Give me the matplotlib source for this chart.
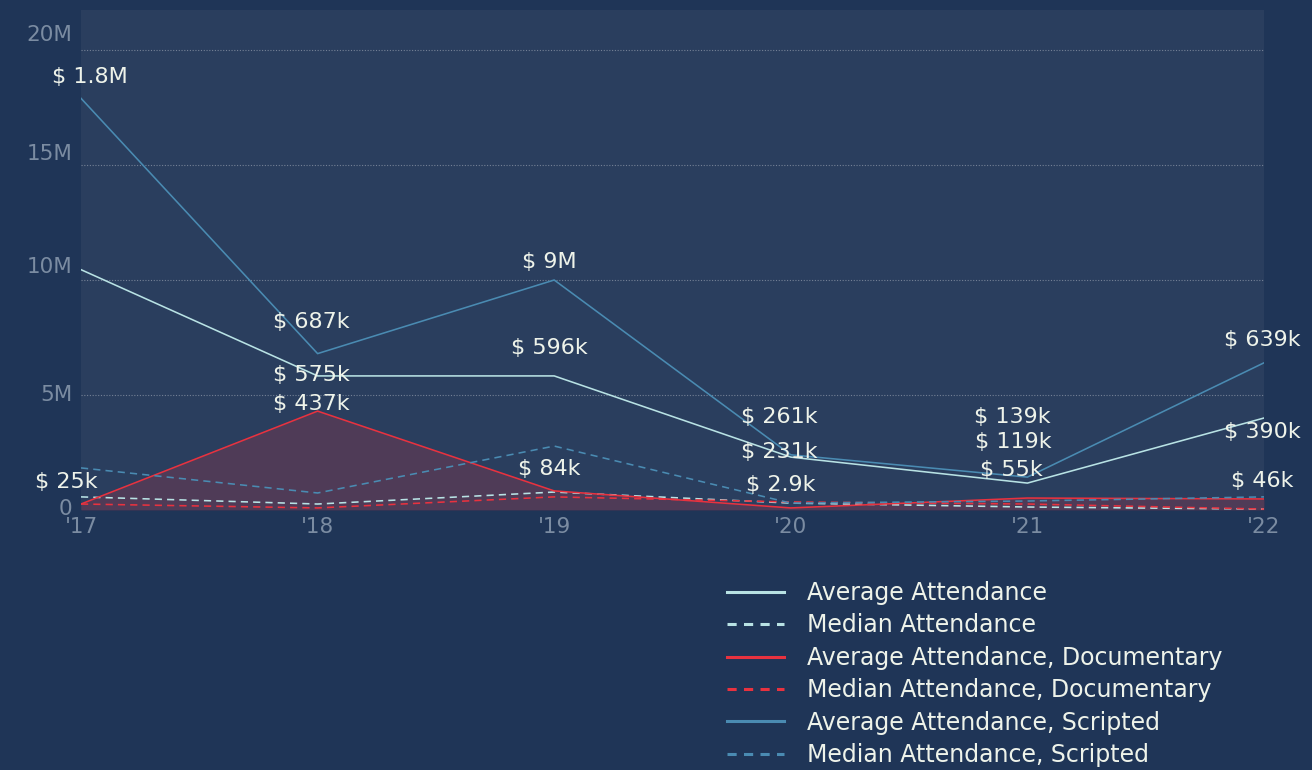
import matplotlib
matplotlib.use("Agg")
import matplotlib.pyplot as plt
import matplotlib.transforms as mtransforms
from matplotlib.ticker import FixedLocator

# ---- data -------------------------------------------------------------
years = [2017, 2018, 2019, 2020, 2021, 2022]
year_labels = ["'17", "'18", "'19", "'20", "'21", "'22"]

avg_attendance = [10.45e6, 5.83e6, 5.83e6, 2.30e6, 1.17e6, 4.00e6]
median_attendance = [0.57e6, 0.26e6, 0.78e6, 0.30e6, 0.13e6, 0.04e6]
avg_documentary = [0.26e6, 4.30e6, 0.83e6, 0.09e6, 0.52e6, 0.48e6]
median_documentary = [0.26e6, 0.09e6, 0.57e6, 0.35e6, 0.26e6, 0.04e6]
avg_scripted = [17.9e6, 6.8e6, 10.0e6, 2.4e6, 1.43e6, 6.4e6]
median_scripted = [1.83e6, 0.74e6, 2.78e6, 0.30e6, 0.39e6, 0.57e6]

labels_scripted = ["$ 1.8M", "$ 687k", "$ 9M", "$ 261k", "$ 139k", "$ 639k"]
labels_average = [None, "$ 575k", "$ 596k", "$ 231k", "$ 119k", "$ 390k"]
labels_documentary = ["$ 25k", "$ 437k", "$ 84k", "$ 2.9k", "$ 55k", "$ 46k"]

y_ticks = [0, 5e6, 10e6, 15e6, 20e6]
y_tick_labels = ["0", "5M", "10M", "15M", "20M"]

# ---- styling ----------------------------------------------------------
BG = "#1f3557"
PANEL = "#2a3e5e"
C_ALL = "#b8e2e4"
C_DOC = "#e8323f"
C_SCR = "#4a8bb2"
TICK_C = "#7b8ca2"
TEXT_C = "#eef3ea"
FONT = "DejaVu Sans"
DASH = (0, (4.5, 3.2))

W, H = 1312, 770
fig = plt.figure(figsize=(W / 100, H / 100), dpi=100, facecolor=BG)
ax = fig.add_axes([81 / W, 1 - 510 / H, (1264 - 81) / W, 500 / H])
ax.set_facecolor(PANEL)
ax.set_xlim(2017, 2022)
ax.set_ylim(0, 21.74e6)

for s in ax.spines.values():
    s.set_visible(False)

# grid
for v in y_ticks[1:]:
    ax.axhline(v, color="white", alpha=0.35, lw=0.8, ls=(0, (1, 1.5)), zorder=1)

# filled area under documentary average
ax.fill_between(years, 0, avg_documentary, color=C_DOC, alpha=0.2, lw=0, zorder=2)

lw = 1.15
series = [
    (avg_attendance, C_ALL, "-", "Average Attendance"),
    (median_attendance, C_ALL, DASH, "Median Attendance"),
    (avg_documentary, C_DOC, "-", "Average Attendance, Documentary"),
    (median_documentary, C_DOC, DASH, "Median Attendance, Documentary"),
    (avg_scripted, C_SCR, "-", "Average Attendance, Scripted"),
    (median_scripted, C_SCR, DASH, "Median Attendance, Scripted"),
]
handles = []
for vals, col, ls, name in series:
    (ln,) = ax.plot(years, vals, color=col, ls=ls, lw=lw, label=name, zorder=3)
    handles.append(ln)

# ticks
ax.xaxis.set_major_locator(FixedLocator(years))
ax.set_xticklabels(year_labels)
ax.yaxis.set_major_locator(FixedLocator(y_ticks))
ax.set_yticklabels(y_tick_labels)
ax.tick_params(axis="both", length=0, colors=TICK_C, labelsize=15.5)
ax.tick_params(axis="x", pad=5)
ax.tick_params(axis="y", pad=6)
for t in ax.get_xticklabels() + ax.get_yticklabels():
    t.set_fontfamily(FONT)

# lift y tick labels slightly off their gridlines
y_label_lift = [3, 2, 15, 13, 17]
for t, lift in zip(ax.get_yticklabels(), y_label_lift):
    t.set_transform(t.get_transform() + mtransforms.Affine2D().translate(0, lift))

# value labels (offsets in pixels: dx, dy with dy measured upward)
off_scripted = [(9, 21), (-6, 32), (-5, 18), (-11, 38), (-15, 60), (-2, 23)]
off_average = [(0, 0), (-6, 1), (-5, 28), (-11, 5), (-14, 41), (-2, -14)]
off_documentary = [(-15, 22), (-6, 7), (-5, 22), (-10, 23), (-16, 28), (-2, 18)]


def put_labels(vals, texts, offsets):
    for x, v, txt, (dx, dy) in zip(years, vals, texts, offsets):
        if txt is None:
            continue
        ax.annotate(txt, (x, v), xytext=(dx, dy), textcoords="offset pixels",
                    ha="center", va="center", color=TEXT_C, fontsize=16,
                    family=FONT, annotation_clip=False, zorder=5)


put_labels(avg_scripted, labels_scripted, off_scripted)
put_labels(avg_attendance, labels_average, off_average)
put_labels(avg_documentary, labels_documentary, off_documentary)

# legend below the plot, right side
leg = fig.legend(handles=handles, loc="upper left",
                 bbox_to_anchor=(727 / W, 1 - 581 / H), frameon=False,
                 prop={"family": FONT, "size": 17}, handlelength=2.4,
                 handletextpad=1.0, labelspacing=0.355, borderpad=0,
                 borderaxespad=0)
for t in leg.get_texts():
    t.set_color(TEXT_C)
for ln, (_, _, ls, _) in zip(leg.get_lines(), series):
    ln.set_linewidth(2.2)
    if ls != "-":
        ln.set_linestyle((0, (3.0, 2.4)))

fig.savefig("out.png", dpi=100, facecolor=BG)
